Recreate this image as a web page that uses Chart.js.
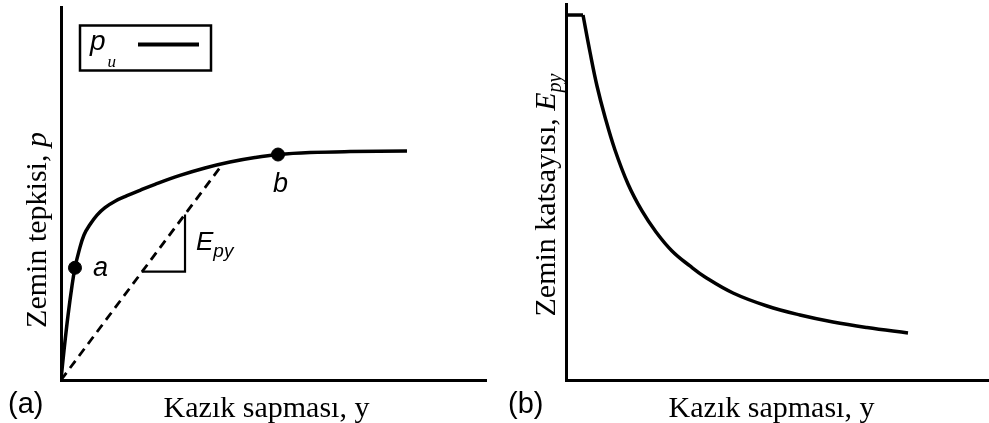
<!DOCTYPE html>
<html>
<head>
<meta charset="utf-8">
<script src="https://cdn.jsdelivr.net/npm/chart.js@4.4.1/dist/chart.umd.min.js"></script>
<style>
  html, body { margin: 0; padding: 0; background: #fff; }
  #wrap { position: relative; width: 989px; height: 423px; }
  #left { position: absolute; left: 0; top: 0; }
  #right { position: absolute; left: 494px; top: 0; }
</style>
</head>
<body>
<div id="wrap">
  <canvas id="left" width="494" height="423"></canvas>
  <canvas id="right" width="495" height="423"></canvas>
</div>
<script>
// (a) p-y curve, axes 0..100 (no numeric ticks in the figure)
const pyX = [0, 0.71, 1.65, 2.59, 3.29, 4.24, 5.41, 6.82, 8.47, 10.35, 12.71, 15.53, 18.59, 22.12, 28.0, 33.88, 39.76, 45.65, 51.06, 58.59, 68.0, 81.41];
const pyP = [0, 8.0, 17.33, 25.33, 30.13, 34.67, 38.93, 41.73, 44.27, 46.27, 48.0, 49.47, 50.93, 52.53, 54.93, 56.93, 58.53, 59.73, 60.53, 61.07, 61.33, 61.47];
// secant line (E_py) and its slope triangle
const secantX = [0, 38.12];
const secantP = [0, 58.1];
const slopeX = [19.0, 29.18, 29.18];
const slopeP = [29.1, 29.1, 44.4];
// marked points a and b
const markX = [3.29, 51.06];
const markP = [30.13, 60.53];
const markLabels = ['a', 'b'];

// (b) E_py vs deflection
const flatX = [0, 4.02];
const flatE = [97.07, 97.07];
const epyX = [4.02, 5.67, 7.33, 9.22, 11.58, 14.66, 17.97, 21.28, 25.06, 29.31, 32.86, 39.48, 47.52, 55.32, 63.12, 71.16, 80.85];
const epyE = [97.07, 87.23, 78.19, 69.95, 61.17, 52.13, 44.95, 39.36, 34.31, 30.32, 27.39, 23.14, 19.68, 17.29, 15.43, 13.96, 12.5];

const SERIF = '"Liberation Serif", "Times New Roman", serif';
const SANS = '"Liberation Sans", Arial, sans-serif';

const toPts = (xs, ys) => xs.map((x, i) => ({ x: x, y: ys[i] }));

function lineSet(xs, ys, extra) {
  return Object.assign({
    data: toPts(xs, ys),
    showLine: true,
    borderColor: '#000',
    borderWidth: 3.5,
    pointRadius: 0,
    fill: false
  }, extra || {});
}

function plainScales() {
  const axis = {
    type: 'linear', min: 0, max: 100,
    ticks: { display: false },
    grid: { display: false, drawTicks: false },
    border: { display: true, color: '#000', width: 3 }
  };
  return { x: Object.assign({}, axis), y: Object.assign({}, axis) };
}

// draw a row of text runs (different fonts) starting at x, baseline y
function drawRuns(ctx, runs, x, y, align) {
  let total = 0;
  runs.forEach(r => { ctx.font = r.font; total += ctx.measureText(r.text).width + (r.gap || 0); });
  let cx = align === 'center' ? x - total / 2 : x;
  runs.forEach(r => {
    ctx.font = r.font;
    cx += r.gap || 0;
    ctx.fillText(r.text, cx, y + (r.dy || 0));
    cx += ctx.measureText(r.text).width;
  });
}

function drawVertical(ctx, runs, baseX, centerY) {
  ctx.save();
  ctx.translate(baseX, centerY);
  ctx.rotate(-Math.PI / 2);
  drawRuns(ctx, runs, 0, 0, 'center');
  ctx.restore();
}

const leftText = {
  id: 'leftText',
  afterDraw(chart) {
    const { ctx, chartArea: ca, scales } = chart;
    const sx = scales.x, sy = scales.y;
    ctx.save();
    ctx.fillStyle = '#000';
    ctx.textBaseline = 'alphabetic';

    drawVertical(ctx, [
      { text: 'Zemin tepkisi, ', font: '30px ' + SERIF },
      { text: 'p', font: 'italic 30px ' + SERIF }
    ], ca.left - 15, 230);

    drawRuns(ctx, [{ text: 'Kazık sapması, y', font: '30px ' + SERIF }], (ca.left + ca.right) / 2 - 7, 417, 'center');
    drawRuns(ctx, [{ text: '(a)', font: '29px ' + SANS }], 8, 413);

    // legend box
    const bx = ca.left + 19, by = ca.top + 18;
    ctx.lineWidth = 2.5;
    ctx.strokeStyle = '#000';
    ctx.strokeRect(bx, by, 131, 45);
    drawRuns(ctx, [
      { text: 'p', font: 'italic 28px ' + SANS },
      { text: 'u', font: 'italic 17px ' + SERIF, dy: 17, gap: 2 }
    ], bx + 10, by + 24);
    ctx.lineWidth = 4;
    ctx.beginPath();
    ctx.moveTo(bx + 58, by + 19);
    ctx.lineTo(bx + 119, by + 19);
    ctx.stroke();

    // point labels
    ctx.font = 'italic 27px ' + SANS;
    ctx.fillText(markLabels[0], sx.getPixelForValue(markX[0]) + 18, sy.getPixelForValue(markP[0]) + 8);
    ctx.fillText(markLabels[1], sx.getPixelForValue(markX[1]) - 5, sy.getPixelForValue(markP[1]) + 37);

    // slope label
    drawRuns(ctx, [
      { text: 'E', font: 'italic 26px ' + SANS },
      { text: 'py', font: 'italic 19px ' + SANS, dy: 7 }
    ], sx.getPixelForValue(slopeX[1]) + 11, sy.getPixelForValue(slopeP[1]) - 22);
    ctx.restore();
  }
};

const rightText = {
  id: 'rightText',
  afterDraw(chart) {
    const { ctx, chartArea: ca } = chart;
    ctx.save();
    ctx.fillStyle = '#000';
    drawVertical(ctx, [
      { text: 'Zemin katsayısı, ', font: '30px ' + SERIF },
      { text: 'E', font: 'italic 30px ' + SERIF },
      { text: 'py', font: 'italic 20px ' + SERIF, dy: 6 }
    ], ca.left - 11, 195);
    drawRuns(ctx, [{ text: 'Kazık sapması, y', font: '30px ' + SERIF }], (ca.left + ca.right) / 2 - 6, 417, 'center');
    drawRuns(ctx, [{ text: '(b)', font: '29px ' + SANS }], 14, 413);
    ctx.restore();
  }
};

const commonOpts = (pad) => ({
  responsive: false,
  animation: false,
  layout: { padding: pad },
  plugins: { legend: { display: false }, tooltip: { enabled: false } },
  scales: plainScales()
});

new Chart(document.getElementById('left'), {
  type: 'scatter',
  data: {
    datasets: [
      lineSet(pyX, pyP, { tension: 0.4 }),
      lineSet(secantX, secantP, { borderWidth: 2.8, borderDash: [9, 6] }),
      lineSet(slopeX, slopeP, { borderWidth: 2.2 }),
      {
        data: toPts(markX, markP),
        pointRadius: 6.5,
        pointBackgroundColor: '#000',
        pointBorderColor: '#000',
        showLine: false
      }
    ]
  },
  options: commonOpts({ left: 61, right: 8, top: 5, bottom: 43 }),
  plugins: [leftText]
});

new Chart(document.getElementById('right'), {
  type: 'scatter',
  data: {
    datasets: [
      lineSet(flatX, flatE, { borderWidth: 3.5 }),
      lineSet(epyX, epyE, { tension: 0.4 })
    ]
  },
  options: commonOpts({ left: 72, right: 0, top: 4, bottom: 43 }),
  plugins: [rightText]
});
</script>
</body>
</html>
